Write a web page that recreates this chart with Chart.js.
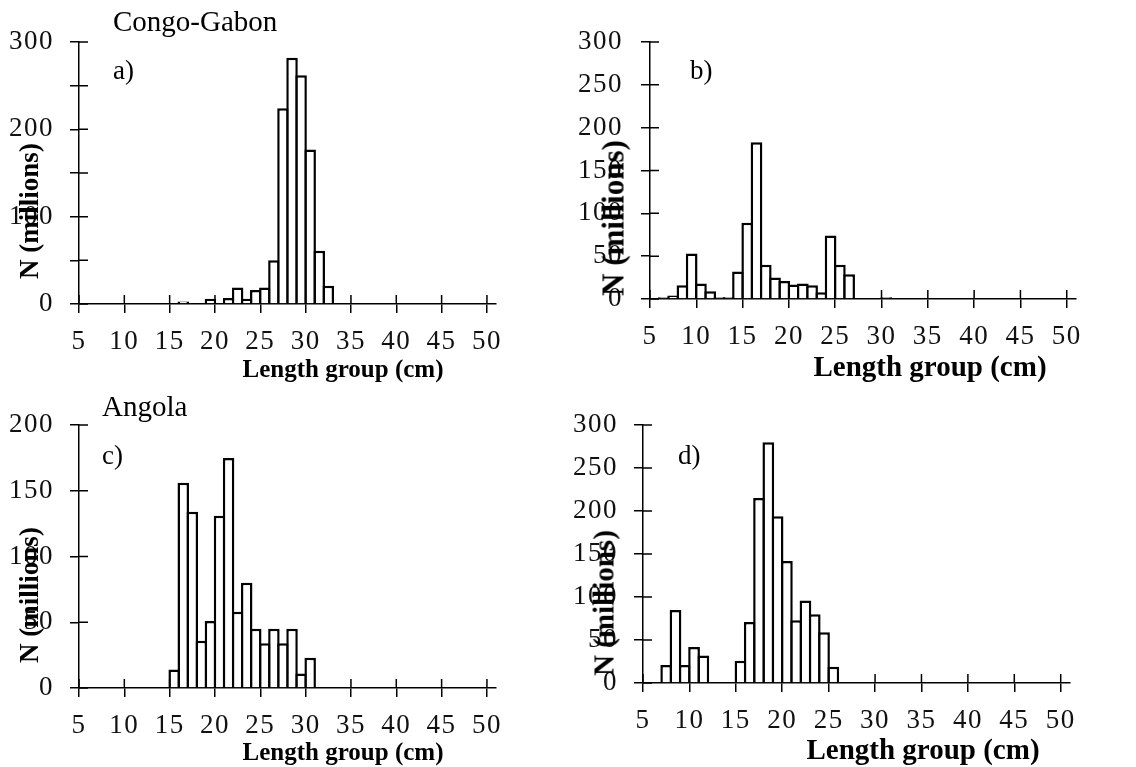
<!DOCTYPE html>
<html>
<head>
<meta charset="utf-8">
<script src="https://cdn.jsdelivr.net/npm/chart.js@4.4.1/dist/chart.umd.min.js"></script>
<style>
  html, body { margin: 0; padding: 0; background: #fff; }
  #wrap { position: relative; width: 1136px; height: 767px; overflow: hidden; background: #fff; }
  canvas { position: absolute; }
  .t { position: absolute; font-family: "Liberation Serif", "Times New Roman", serif; color: #000; line-height: 1; white-space: nowrap; }
  .xt { font-weight: bold; transform: translate(-50%, -50%); }
  .yt { font-weight: bold; transform: translate(-50%, -50%) rotate(-90deg); }
</style>
</head>
<body>
<div id="wrap">
  <canvas id="ca" width="568" height="383" style="left:0;top:0"></canvas>
  <canvas id="cb" width="568" height="383" style="left:568px;top:0"></canvas>
  <canvas id="cc" width="568" height="384" style="left:0;top:383px"></canvas>
  <canvas id="cd" width="568" height="384" style="left:568px;top:383px"></canvas>

  <div class="t" style="left:113px;top:7px;font-size:29px">Congo-Gabon</div>
  <div class="t" style="left:113px;top:57px;font-size:27px">a)</div>
  <div class="t" style="left:690px;top:57px;font-size:27px">b)</div>
  <div class="t" style="left:102px;top:392px;font-size:29px">Angola</div>
  <div class="t" style="left:102px;top:442px;font-size:27px">c)</div>
  <div class="t" style="left:678px;top:442px;font-size:27px">d)</div>

  <div class="t xt" style="left:343px;top:368px;font-size:25px">Length group (cm)</div>
  <div class="t xt" style="left:930px;top:366px;font-size:29px">Length group (cm)</div>
  <div class="t xt" style="left:343px;top:751px;font-size:25px">Length group (cm)</div>
  <div class="t xt" style="left:923px;top:749px;font-size:29px">Length group (cm)</div>

  <div class="t yt" style="left:29px;top:211px;font-size:27px">N (millions)</div>
  <div class="t yt" style="left:613px;top:218px;font-size:31px">N (millions)</div>
  <div class="t yt" style="left:29px;top:595px;font-size:27px">N (millions)</div>
  <div class="t yt" style="left:604px;top:603px;font-size:29px">N (millions)</div>
</div>
<script>
// ---- Data (length group start in cm, abundance in millions) ----
const lengthA = [16, 19, 21, 22, 23, 24, 25, 26, 27, 28, 29, 30, 31, 32];
const countA  = [3, 6, 7, 19, 6, 16, 19, 50, 224, 282, 262, 177, 61, 21];

const lengthB = [6, 7, 8, 9, 10, 11, 12, 13, 14, 15, 16, 17, 18, 19, 20, 21, 22, 23, 24, 25, 26, 30];
const countB  = [2, 4, 16, 53, 18, 9, 2, 2, 32, 89, 183, 40, 25, 21, 17, 18, 16, 8, 74, 40, 29, 2];

const lengthC = [15, 16, 17, 18, 19, 20, 21, 22, 23, 24, 25, 26, 27, 28, 29, 30];
const countC  = [14, 156, 134, 36, 51, 131, 175, 58, 80, 45, 34, 45, 34, 45, 11, 23];

const lengthD = [7, 8, 9, 10, 11, 15, 16, 17, 18, 19, 20, 21, 22, 23, 24, 25];
const countD  = [21, 85, 21, 42, 32, 26, 71, 215, 280, 194, 142, 73, 96, 80, 59, 19];

const xTickValues = [5, 10, 15, 20, 25, 30, 35, 40, 45, 50];
const yMaxA = 300, yMaxB = 300, yMaxC = 200, yMaxD = 300;

// ---- Chart helpers ----
const crossTicks = {
  id: 'crossTicks',
  beforeDraw(chart) {
    chart.ctx.letterSpacing = '1.5px';
  },
  beforeDatasetsDraw(chart) {
    const { ctx, chartArea, scales } = chart;
    const x = scales.x, y = scales.y;
    ctx.save();
    ctx.strokeStyle = '#000';
    ctx.lineWidth = 1.5;
    ctx.beginPath();
    x.ticks.forEach(t => {
      const px = x.getPixelForValue(t.value);
      ctx.moveTo(px, chartArea.bottom);
      ctx.lineTo(px, chartArea.bottom - 9);
    });
    y.ticks.forEach(t => {
      const py = y.getPixelForValue(t.value);
      ctx.moveTo(chartArea.left, py);
      ctx.lineTo(chartArea.left + 9, py);
    });
    ctx.stroke();
    ctx.restore();
  }
};

function makeChart(id, lengths, counts, cfg) {
  const data = lengths.map((L, i) => ({ x: L + 0.5, y: counts[i] }));
  return new Chart(document.getElementById(id), {
    type: 'bar',
    data: {
      datasets: [{
        data: data,
        backgroundColor: '#ffffff',
        borderColor: '#000000',
        borderWidth: 2.5,
        barPercentage: cfg.barPct,
        categoryPercentage: 1.0
      }]
    },
    options: {
      responsive: false,
      animation: false,
      devicePixelRatio: 1,
      layout: { padding: { left: 0, right: cfg.padRight, top: cfg.padTop, bottom: 0 } },
      plugins: { legend: { display: false }, tooltip: { enabled: false } },
      scales: {
        x: {
          type: 'linear',
          min: 5,
          max: 51,
          offset: false,
          grid: { offset: false, drawOnChartArea: false, drawTicks: true, tickLength: 9, color: '#000', lineWidth: 1.5 },
          border: { display: true, color: '#000', width: 1.5 },
          afterBuildTicks(axis) {
            axis.ticks = xTickValues.map(v => ({ value: v }));
          },
          afterFit(s) { s.height = cfg.xHeight; s.paddingLeft = 0; s.paddingRight = 0; },
          ticks: {
            autoSkip: false,
            maxRotation: 0,
            padding: 13,
            color: '#111',
            font: { family: 'Liberation Serif', size: 27 },
            callback: v => String(v)
          }
        },
        y: {
          type: 'linear',
          min: 0,
          max: cfg.yMax,
          grid: { drawOnChartArea: false, drawTicks: true, tickLength: 9, color: '#000', lineWidth: 1.5 },
          border: { display: true, color: '#000', width: 1.5 },
          afterFit(s) { s.width = cfg.yWidth; s.paddingTop = 0; s.paddingBottom = 0; },
          ticks: {
            stepSize: 50,
            padding: cfg.yPad,
            color: '#111',
            font: { family: 'Liberation Serif', size: 27 },
            callback: v => (v % cfg.labelStep === 0 ? String(v) : '')
          }
        }
      }
    },
    plugins: [crossTicks]
  });
}

makeChart('ca', lengthA, countA, { yMax: yMaxA, labelStep: 100, yWidth: 79, padRight: 72, padTop: 42, xHeight: 79, yPad: 16, barPct: 1.27 });
makeChart('cb', lengthB, countB, { yMax: yMaxB, labelStep: 50, yWidth: 82, padRight: 60, padTop: 42, xHeight: 84, yPad: 18, barPct: 1.265 });
makeChart('cc', lengthC, countC, { yMax: yMaxC, labelStep: 50, yWidth: 79, padRight: 72, padTop: 42, xHeight: 79, yPad: 16, barPct: 1.27 });
makeChart('cd', lengthD, countD, { yMax: yMaxD, labelStep: 50, yWidth: 75, padRight: 66, padTop: 42, xHeight: 84, yPad: 16, barPct: 1.265 });
</script>
</body>
</html>
